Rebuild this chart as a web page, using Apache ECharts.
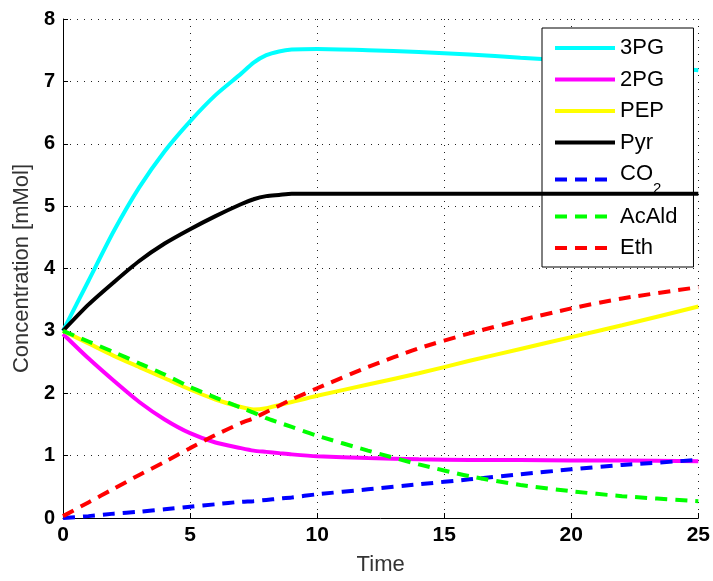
<!DOCTYPE html>
<html>
<head>
<meta charset="utf-8">
<script src="https://cdn.jsdelivr.net/npm/echarts@6/dist/echarts.min.js"></script>
<style>
html,body{margin:0;padding:0;background:#fff;}
#c{width:713px;height:581px;}
</style>
</head>
<body>
<div id="c"></div>
<script>
const time = [0,1,2,3,4,5,6,7,7.5,8,8.5,9,10,12,14,16,18,20,22,25];
const pg3  = [3.0,3.8,4.6,5.3,5.88,6.36,6.78,7.12,7.3,7.42,7.48,7.51,7.52,7.5,7.47,7.43,7.38,7.33,7.28,7.18];
const pg2  = [2.95,2.56,2.2,1.86,1.58,1.36,1.21,1.12,1.08,1.06,1.04,1.02,0.99,0.96,0.94,0.93,0.93,0.92,0.92,0.91];
const pep  = [3.0,2.8,2.6,2.42,2.24,2.06,1.9,1.78,1.74,1.76,1.81,1.86,1.96,2.14,2.32,2.52,2.71,2.9,3.09,3.39];
const pyr  = [3.0,3.42,3.78,4.12,4.4,4.63,4.84,5.03,5.11,5.16,5.18,5.2,5.2,5.2,5.2,5.2,5.2,5.2,5.2,5.2];
const co2  = [0.0,0.03,0.07,0.1,0.14,0.18,0.22,0.26,0.27,0.29,0.31,0.33,0.38,0.46,0.54,0.62,0.7,0.78,0.85,0.93];
const acald= [3.0,2.83,2.66,2.48,2.3,2.1,1.93,1.77,1.69,1.6,1.53,1.46,1.32,1.08,0.86,0.67,0.53,0.43,0.35,0.27];
const eth  = [0.03,0.25,0.47,0.69,0.9,1.12,1.33,1.52,1.6,1.7,1.8,1.9,2.08,2.42,2.72,2.96,3.17,3.36,3.52,3.7];

const names  = ['3PG','2PG','PEP','Pyr','CO2','AcAld','Eth'];
const values = [pg3, pg2, pep, pyr, co2, acald, eth];
const colors = ['#00FFFF','#FF00FF','#FFFF00','#000000','#0000FF','#00FF00','#FF0000'];
const dashed = [false,false,false,false,true,true,true];

const xTicks = [0,5,10,15,20,25];
const yTicks = [0,1,2,3,4,5,6,7,8];

const FONT = '"Liberation Sans", Arial, sans-serif';
const chart = echarts.init(document.getElementById('c'), null, {renderer:'canvas'});

const series = names.map((n,i)=>({
  name: n,
  type: 'line',
  data: time.map((t,j)=>[t, values[i][j]]),
  symbol: 'none',
  smooth: 0.25,
  lineStyle: {color: colors[i], width: 4, type: dashed[i] ? [12,8] : 'solid', cap: 'butt'},
  itemStyle: {color: colors[i]},
  z: 2 + i
}));

chart.setOption({
  animation: false,
  backgroundColor: '#fff',
  grid: {left: 63, right: 13, top: 19, bottom: 62, containLabel: false},
  xAxis: {
    type: 'value', min: xTicks[0], max: xTicks[xTicks.length-1], interval: 5,
    name: 'Time', nameLocation: 'middle', nameGap: 36,
    nameTextStyle: {fontFamily: FONT, fontSize: 22, color: '#333'},
    axisLine: {show: true, lineStyle: {color: '#000', width: 1}},
    axisTick: {show: true, inside: true, length: 5, lineStyle: {color: '#000'}},
    axisLabel: {fontFamily: FONT, fontSize: 21, fontWeight: 'bold', color: '#000', margin: 7},
    splitLine: {show: true, lineStyle: {color: '#222', width: 1, type: [1,6]}}
  },
  yAxis: {
    type: 'value', min: yTicks[0], max: yTicks[yTicks.length-1], interval: 1,
    name: 'Concentration [mMol]', nameLocation: 'middle', nameGap: 30,
    nameTextStyle: {fontFamily: FONT, fontSize: 22, color: '#333'},
    axisLine: {show: true, lineStyle: {color: '#000', width: 1}},
    axisTick: {show: true, inside: true, length: 5, lineStyle: {color: '#000'}},
    axisLabel: {fontFamily: FONT, fontSize: 20, fontWeight: 'bold', color: '#000', margin: 8},
    splitLine: {show: true, lineStyle: {color: '#222', width: 1, type: [1,6]}}
  },
  legend: {
    orient: 'vertical', left: 542, top: 28,
    data: names,
    selectedMode: false,
    itemWidth: 60, itemHeight: 22, itemGap: 9.5,
    padding: [9, 16, 8, 11],
    backgroundColor: '#fff', borderColor: '#000', borderWidth: 1, borderRadius: 0,
    itemStyle: {opacity: 0, borderWidth: 0},
    lineStyle: {width: 4},
    textStyle: {fontFamily: FONT, fontSize: 22, color: '#000',
      rich: {
        n: {fontFamily: FONT, fontSize: 22, color: '#000', verticalAlign: 'top'},
        s: {fontFamily: FONT, fontSize: 15, color: '#000', verticalAlign: 'bottom', padding: [18,0,0,0]}
      }
    },
    formatter: function(name){ return name === 'CO2' ? '{n|CO}{s|2}' : name; }
  },
  series: series
});
</script>
</body>
</html>
